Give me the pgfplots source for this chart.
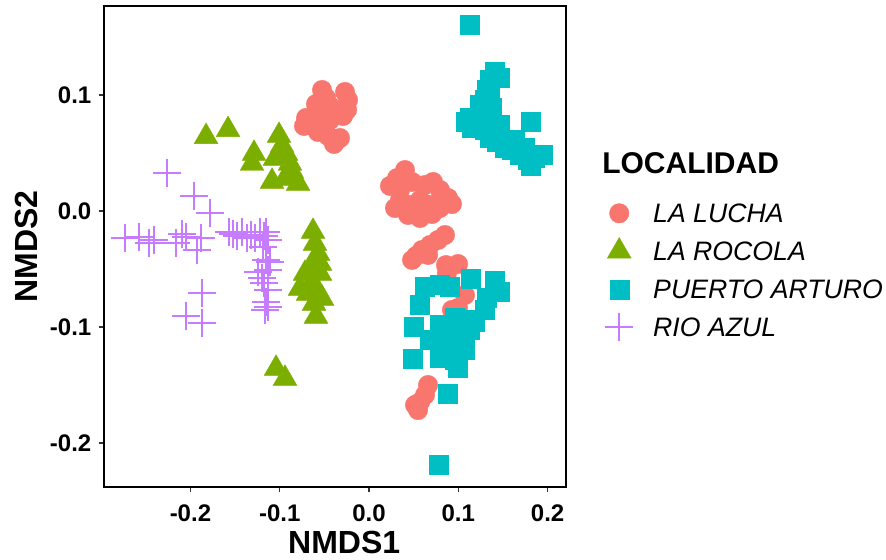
\documentclass[border=0pt]{standalone}
\usepackage{fontspec}
\setmainfont{Liberation Sans}
\usepackage{pgfplots}
\pgfplotsset{compat=1.18}
\definecolor{cLL}{HTML}{F8766D}
\definecolor{cLR}{HTML}{7CAE00}
\definecolor{cPA}{HTML}{00BFC4}
\definecolor{cRA}{HTML}{C77CFF}
\begin{document}
\begin{tikzpicture}[x=1pt,y=1pt]
\useasboundingbox (-78,-54.75) rectangle (586.5,365.25);
\begin{axis}[
  at={(0,0)}, anchor=south west,
  scale only axis, width=346.5pt, height=360.75pt,
  xmin=-0.2968, xmax=0.2206, ymin=-0.2379, ymax=0.1767,
  axis line style={line width=1.5pt, black},
  xtick={-0.2,-0.1,0,0.1,0.2}, xticklabels={-0.2,-0.1,0.0,0.1,0.2},
  ytick={-0.2,-0.1,0,0.1}, yticklabels={-0.2,-0.1,0.0,0.1},
  xtick pos=lower, ytick pos=left,
  tick align=outside, major tick length=4pt,
  tick style={line width=0.8pt, black!80},
  ticklabel style={font=\bfseries\fontsize{18}{20}\selectfont},
  xticklabel shift=5.5pt, yticklabel shift=2pt,
  xlabel={NMDS1}, ylabel={NMDS2},
  label style={font=\bfseries\fontsize{24}{28}\selectfont},
  xlabel style={at={(axis description cs:0.52,-0.1164)}, anchor=center},
  ylabel style={at={(axis description cs:-0.1667,0.5)}, anchor=center},
  legend cell align=left,
  legend image code/.code={\path[draw=none,fill=none] (0pt,-14.25pt) rectangle (22pt,14.25pt); \draw[#1] plot coordinates {(11pt,0pt)};},
  legend style={draw=none, fill=none, inner xsep=0pt, inner ysep=0pt,
    at={(axis description cs:1.0829,0.6091)}, anchor=north west,
    row sep=0pt,
    nodes={inner sep=0pt, text height=14pt, text depth=0pt},
    font=\itshape\fontsize{20}{23}\selectfont,
    /tikz/every odd column/.append style={column sep=14.5pt}},
]
\addplot[only marks, mark=*, color=cLL, mark size=7.3pt, mark options={fill=cLL, draw=cLL, line width=0.3pt}] coordinates {
(-0.0526,0.1043) (-0.0481,0.0974) (-0.0594,0.0922) (-0.0269,0.1026) (-0.0235,0.0957)
(-0.0246,0.0871) (-0.0291,0.0819) (-0.0705,0.0802) (-0.0728,0.0733) (-0.0616,0.0767)
(-0.0526,0.0853) (-0.0437,0.0905) (-0.0571,0.0681) (-0.0459,0.0647) (-0.0392,0.0578)
(-0.0325,0.0629) (-0.0437,0.0784)
(0.0403,0.0353) (0.0314,0.0284) (0.0235,0.0216) (0.0347,0.0181) (0.0482,0.0250)
(0.0627,0.0224) (0.0717,0.0250) (0.0795,0.0181) (0.0885,0.0112) (0.0929,0.0060)
(0.0347,0.0095) (0.0459,0.0052) (0.0571,0.0095) (0.0683,0.0052) (0.0795,0.0026)
(0.0437,-0.0034) (0.0571,-0.0060) (0.0706,-0.0026) (0.0291,0.0026)
(0.0851,-0.0207) (0.0773,-0.0250) (0.0683,-0.0293) (0.0594,-0.0336) (0.0526,-0.0388)
(0.0482,-0.0422) (0.0661,-0.0379)
(0.0862,-0.0466) (0.0997,-0.0457) (0.0873,-0.0534)
(0.1075,-0.0724) (0.0997,-0.0836) (0.0929,-0.0853)
(0.0661,-0.1500) (0.0627,-0.1586) (0.0571,-0.1647) (0.0549,-0.1716) (0.0515,-0.1672)
};
\addlegendentry{LA LUCHA}
\addplot[only marks, mark=triangle*, color=cLR, mark size=10.3pt, mark options={fill=cLR, draw=cLR, line width=0.3pt}] coordinates {
(-0.1825,0.0640) (-0.1579,0.0700) (-0.1288,0.0495) (-0.1310,0.0410) (-0.1008,0.0650)
(-0.0974,0.0565) (-0.0929,0.0495) (-0.1053,0.0453) (-0.0885,0.0410) (-0.0941,0.0280)
(-0.1086,0.0254) (-0.0795,0.0237) (-0.0862,0.0341)
(-0.0627,-0.0177) (-0.0605,-0.0280) (-0.0571,-0.0366) (-0.0549,-0.0452) (-0.0638,-0.0470)
(-0.0717,-0.0539) (-0.0549,-0.0539) (-0.0661,-0.0642) (-0.0773,-0.0668) (-0.0571,-0.0694)
(-0.0526,-0.0754) (-0.0616,-0.0797) (-0.0594,-0.0909) (-0.0683,-0.0711)
(-0.1041,-0.1358) (-0.0941,-0.1444)
};
\addlegendentry{LA ROCOLA}
\addplot[only marks, mark=square*, color=cPA, mark size=7.1pt, mark options={fill=cPA, draw=cPA, line width=0.2pt}] coordinates {
(0.1131,0.1603)
(0.1411,0.1198) (0.1355,0.1129) (0.1467,0.1147) (0.1321,0.1043) (0.1299,0.0957)
(0.1243,0.0914) (0.1355,0.0991) (0.1377,0.0888) (0.1131,0.0802) (0.1221,0.0767)
(0.1086,0.0767) (0.1153,0.0716) (0.1299,0.0698) (0.1355,0.0629) (0.1433,0.0595)
(0.1523,0.0543) (0.1601,0.0526) (0.1691,0.0483) (0.1781,0.0440) (0.1859,0.0457)
(0.1949,0.0483) (0.1747,0.0543) (0.1635,0.0612) (0.1467,0.0741) (0.1277,0.0828)
(0.1814,0.0767) (0.1814,0.0388)
(0.1142,-0.0586) (0.1411,-0.0603) (0.1467,-0.0698) (0.1299,-0.0853) (0.1321,-0.0750)
(0.0627,-0.0655) (0.0795,-0.0638) (0.0907,-0.0655) (0.0571,-0.0810) (0.0504,-0.1000)
(0.0493,-0.1276) (0.0795,-0.0983) (0.0963,-0.0922) (0.1075,-0.0940) (0.1187,-0.0957)
(0.0683,-0.1112) (0.0851,-0.1112) (0.1019,-0.1069) (0.1131,-0.1026) (0.0907,-0.1241)
(0.1075,-0.1198) (0.0795,-0.1267) (0.0997,-0.1353) (0.0963,-0.1284)
(0.0885,-0.1578) (0.0784,-0.2190)
};
\addlegendentry{PUERTO ARTURO}
\addplot[only marks, mark=+, color=cRA, mark size=10.5pt, mark options={line width=1.3pt}] coordinates {
(-0.2262,0.0328) (-0.1960,0.0129) (-0.1781,-0.0017)
(-0.2732,-0.0233) (-0.2576,-0.0224) (-0.2464,-0.0276) (-0.2408,-0.0250) (-0.2161,-0.0276)
(-0.2094,-0.0198) (-0.2049,-0.0224) (-0.1926,-0.0336) (-0.1881,-0.0233)
(-0.1870,-0.0707) (-0.2049,-0.0905) (-0.1870,-0.0966)
(-0.1568,-0.0181) (-0.1523,-0.0198) (-0.1478,-0.0216) (-0.1422,-0.0181) (-0.1366,-0.0233)
(-0.1321,-0.0207) (-0.1277,-0.0233) (-0.1221,-0.0181) (-0.1176,-0.0216) (-0.1153,-0.0181)
(-0.1131,-0.0250) (-0.1187,-0.0310) (-0.1153,-0.0422) (-0.1131,-0.0509) (-0.1198,-0.0578)
(-0.1176,-0.0621) (-0.1131,-0.0681) (-0.1153,-0.0784) (-0.1131,-0.0828) (-0.1165,-0.0853)
(-0.1109,-0.0440) (-0.1243,-0.0526)
};
\addlegendentry{RIO AZUL}
\end{axis}
\node[anchor=west, font=\bfseries\fontsize{22.5}{26}\selectfont, inner sep=0pt] at (373.5,243) {LOCALIDAD};
\end{tikzpicture}
\end{document}
